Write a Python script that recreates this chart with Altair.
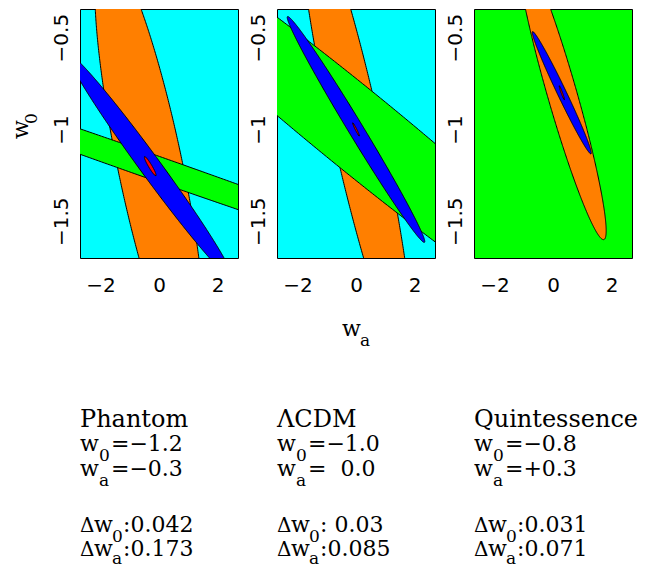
import numpy as np
import pandas as pd
import altair as alt

# ---------------- data ----------------
models = ["Phantom", "ΛCDM", "Quintessence"]
wa_fid = [-0.3, 0.0, 0.3]
w0_fid = [-1.2, -1.0, -0.8]
w0_text = ["−1.2", "−1.0", "−0.8"]
wa_text = ["−0.3", "\u00a0\u00a00.0", "+0.3"]
dw0_text = ["0.042", "\u00a00.03", "0.031"]
dwa_text = ["0.173", "0.085", "0.071"]
panel_bg = ["#00ffff", "#00ffff", "#00ff00"]

# Fisher ellipses: panel, fill, half-extent in wa, half-extent in w0, correlation
ell_panel = [0, 0, 0, 0, 1, 1, 1, 1, 2, 2, 2]
ell_fill = ["#ff7f00", "#00ff00", "#0000ff", "#ff0000",
            "#ff7f00", "#00ff00", "#0000ff", "#ff0000",
            "#ff7f00", "#0000ff", "#ff0000"]
ell_wa = [1.895, 12.0, 2.81, 0.20, 1.927, 10.0, 2.35, 0.115, 1.517, 1.008, 0.09]
ell_w0 = [1.19, 0.675, 0.61, 0.052, 1.26, 1.304, 0.615, 0.036, 0.80, 0.333, 0.038]
ell_rho = [-0.804, -0.9945, -0.988, -0.94, -0.899, -0.977, -0.992, -0.97,
           -0.939, -0.986, -0.96]

wa_ticks = [-2, 0, 2]
w0_ticks = [-1.5, -1.0, -0.5]
wa_domain = [-2.7, 2.7]
w0_domain = [-1.7, -0.344]

# ---------------- geometry ----------------
W, H = 158, 249
t = np.linspace(0, 2 * np.pi, 721)


def outline(k):
    p = ell_panel[k]
    r = ell_rho[k]
    dy = ell_w0[k] * np.sin(t)
    dx = ell_wa[k] * (r * np.sin(t) + np.sqrt(1 - r * r) * np.cos(t))
    return pd.DataFrame({"wa": wa_fid[p] + dx, "w0": w0_fid[p] + dy,
                         "i": np.arange(len(t))})


xscale = alt.Scale(domain=wa_domain, nice=False, zero=False)
yscale = alt.Scale(domain=w0_domain, nice=False, zero=False)
xaxis = alt.Axis(values=wa_ticks, format="d", ticks=False, domain=False, grid=False,
                 labelFont="DejaVu Sans", labelFontSize=20, labelColor="black",
                 labelPadding=17, labelFlush=False, labelOverlap=False, title=None)
yaxis = alt.Axis(values=w0_ticks, format="~g", ticks=False, domain=False, grid=False,
                 labelFont="DejaVu Sans", labelFontSize=20, labelColor="black",
                 labelAngle=270, labelAlign="center", labelBaseline="alphabetic",
                 labelPadding=13, labelFlush=False, labelOverlap=False, title=None)

MAIN, SUB, NAME = 22, 17, 24


def text_layer(rows, angle=0):
    df = pd.DataFrame(rows, columns=["px", "py", "t", "fs"])
    return alt.Chart(df).mark_text(
        align="left", baseline="alphabetic", font="DejaVu Serif",
        color="black", angle=angle
    ).encode(
        x=alt.X("px:Q", scale=None, axis=None),
        y=alt.Y("py:Q", scale=None, axis=None),
        text="t:N",
        size=alt.Size("fs:Q", scale=None, legend=None),
    )


panels = []
for p in range(3):
    layers = []
    for k in range(len(ell_panel)):
        if ell_panel[k] != p:
            continue
        layers.append(
            alt.Chart(outline(k)).mark_line(
                fill=ell_fill[k], stroke="black", strokeWidth=1, clip=True
            ).encode(
                x=alt.X("wa:Q", scale=xscale, axis=xaxis),
                y=alt.Y("w0:Q", scale=yscale, axis=yaxis),
                order="i:Q",
            )
        )
    rows = [
        (0, 418, models[p], NAME),
        (0, 442, "w", MAIN), (19, 452, "0", SUB), (31, 442, "=" + w0_text[p], MAIN),
        (0, 467, "w", MAIN), (19, 477, "a", SUB), (31, 467, "=" + wa_text[p], MAIN),
        (0, 523, "Δ", 20), (14, 523, "w", MAIN), (32, 533, "0", SUB),
        (43, 523, ":" + dw0_text[p], MAIN),
        (0, 547, "Δ", 20), (14, 547, "w", MAIN), (32, 555, "a", SUB),
        (43, 547, ":" + dwa_text[p], MAIN),
    ]
    if p == 1:
        rows += [(65, 327, "w", MAIN), (83, 337, "a", SUB)]
    layers.append(text_layer(rows))
    if p == 0:
        layers.append(text_layer([(-52, 130, "w", MAIN), (-43, 115, "0", SUB)], angle=270))
    panels.append(
        alt.layer(*layers).properties(
            width=W, height=H,
            view=alt.ViewBackground(fill=panel_bg[p], stroke="black", strokeWidth=1),
        )
    )

chart = alt.hconcat(*panels, spacing=39, bounds="flush").properties(
    padding={"left": 1, "top": 0, "right": 0, "bottom": 0},
    background="white",
)

chart.save("out.html", embed_options={"renderer": "svg", "actions": False})
